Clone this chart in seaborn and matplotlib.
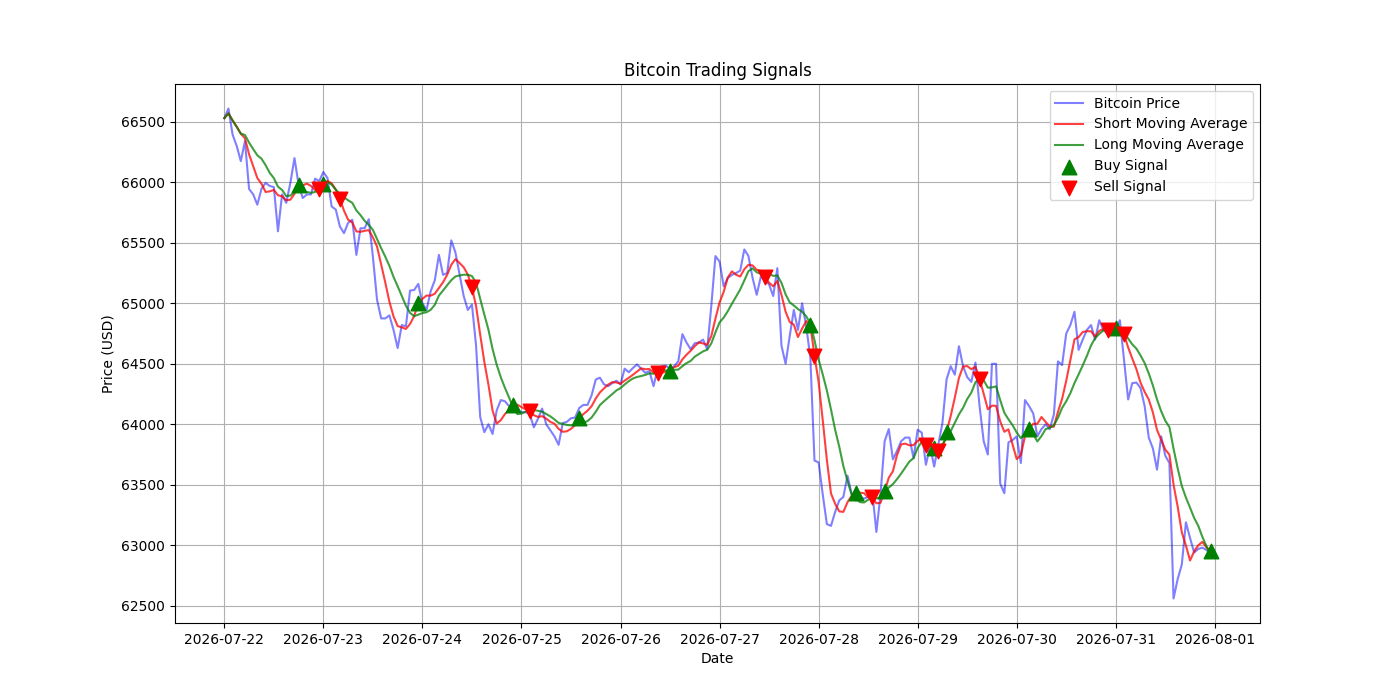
import pandas as pd
import numpy as np
import matplotlib
matplotlib.use('Agg')
import matplotlib.pyplot as plt
import matplotlib.dates as mdates
import seaborn as sns

# hourly bitcoin price
dates = pd.date_range('2026-07-22 00:00', periods=240, freq='h')
price = [
    66530, 66610, 66395, 66300, 66175, 66340, 65945, 65900, 65815, 65945,
    65995, 65970, 65960, 65595, 65900, 65830, 65995, 66200, 65980, 65870,
    65900, 65900, 66030, 66010, 66085, 66035, 65800, 65775, 65635, 65580,
    65665, 65690, 65400, 65620, 65620, 65695, 65385, 65030, 64875, 64875,
    64900, 64780, 64630, 64820, 64810, 65105, 65110, 65160, 65000, 64945,
    65100, 65190, 65400, 65235, 65250, 65520, 65420, 65240, 65060, 64945,
    64990, 64650, 64060, 63935, 64000, 63920, 64115, 64200, 64190, 64150,
    64155, 64115, 64100, 64100, 64085, 63975, 64045, 64130, 64000, 63950,
    63900, 63830, 64010, 64020, 64050, 64055, 64135, 64160, 64160, 64240,
    64370, 64385, 64330, 64315, 64340, 64360, 64330, 64460, 64430, 64465,
    64495, 64460, 64425, 64440, 64315, 64460, 64480, 64485, 64455, 64480,
    64520, 64745, 64675, 64620, 64670, 64675, 64700, 64620, 64980, 65390,
    65345, 65140, 65210, 65235, 65250, 65270, 65445, 65390, 65210, 65070,
    65220, 65195, 65155, 65060, 65290, 64650, 64500, 64730, 64945, 64780,
    65000, 64810, 64550, 63700, 63685, 63420, 63175, 63160, 63275, 63370,
    63400, 63575, 63425, 63370, 63400, 63385, 63400, 63440, 63110, 63420,
    63860, 63960, 63710, 63780, 63860, 63890, 63890, 63720, 63955, 63930,
    63665, 63820, 63650, 63830, 64010, 64370, 64480, 64410, 64645, 64480,
    64390, 64350, 64510, 64150, 63860, 63750, 64500, 64500, 63510, 63430,
    63850, 63870, 63900, 63680, 64200, 64150, 64090, 63900, 63960, 64000,
    63960, 64080, 64520, 64490, 64750, 64820, 64930, 64615, 64700, 64780,
    64820, 64700, 64860, 64780, 64750, 64800, 64780, 64860, 64530, 64205,
    64340, 64345, 64300, 64150, 63890, 63800, 63625, 63900, 63740, 63680,
    62560, 62720, 62840, 63190, 63060, 62940, 62970, 62980, 62960, 62930,
]

# hours (index) where the signals appear
buy_idx = [18, 24, 47, 70, 86, 108, 142, 153, 160, 172, 175, 195, 216, 239]
sell_idx = [23, 28, 60, 74, 105, 131, 143, 157, 170, 173, 183, 214, 218]

short_window = 5
long_window = 10

df = pd.DataFrame({'Date': dates, 'Price': price})
df['Short_MA'] = df['Price'].rolling(window=short_window, min_periods=1).mean()
df['Long_MA'] = df['Price'].rolling(window=long_window, min_periods=1).mean()
buys = df.iloc[buy_idx]
sells = df.iloc[sell_idx]

fig, ax = plt.subplots(figsize=(14, 7), dpi=100)

sns.lineplot(data=df, x='Date', y='Price', color='blue', alpha=0.5, label='Bitcoin Price', ax=ax)
sns.lineplot(data=df, x='Date', y='Short_MA', color='red', alpha=0.75, label='Short Moving Average', ax=ax)
sns.lineplot(data=df, x='Date', y='Long_MA', color='green', alpha=0.75, label='Long Moving Average', ax=ax)
sns.scatterplot(data=buys, x='Date', y='Short_MA', marker='^', s=110, color='green',
                edgecolor='green', linewidth=1, label='Buy Signal', ax=ax, zorder=3)
sns.scatterplot(data=sells, x='Date', y='Short_MA', marker='v', s=110, color='red',
                edgecolor='red', linewidth=1, label='Sell Signal', ax=ax, zorder=3)

ax.set_title('Bitcoin Trading Signals')
ax.set_xlabel('Date')
ax.set_ylabel('Price (USD)')
ax.xaxis.set_major_locator(mdates.DayLocator())
ax.xaxis.set_major_formatter(mdates.DateFormatter('%Y-%m-%d'))
ax.grid(True)
ax.legend(loc='upper right')

plt.savefig('out.png', dpi=100)
